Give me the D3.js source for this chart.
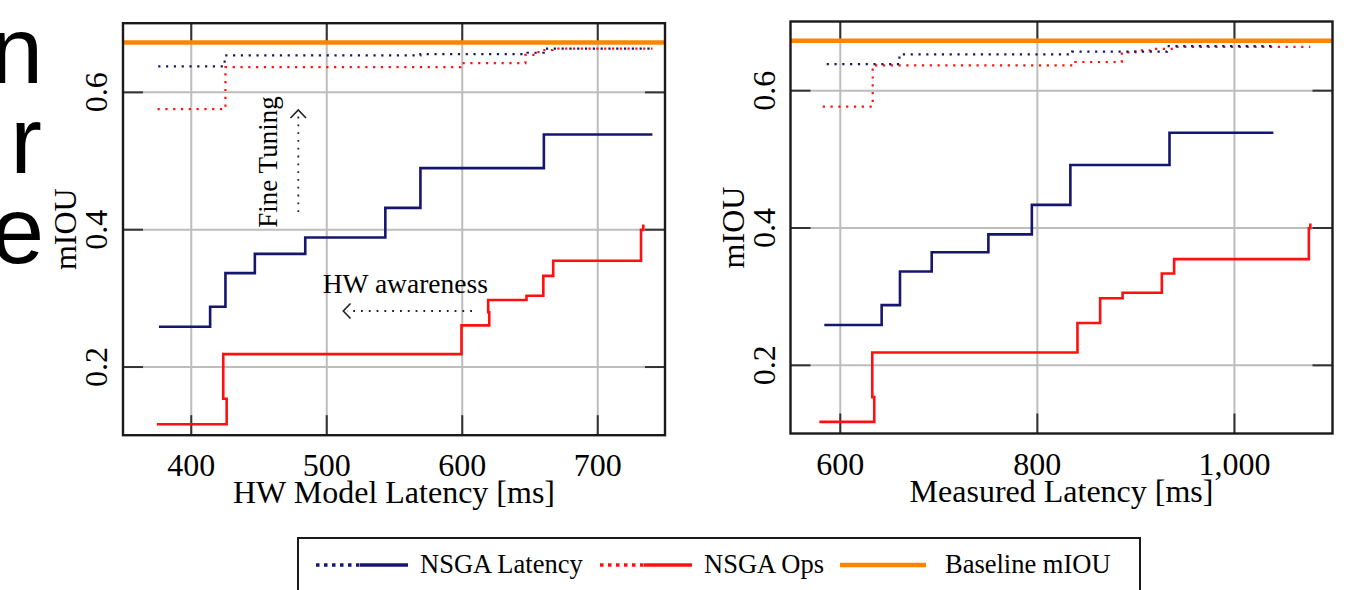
<!DOCTYPE html>
<html>
<head>
<meta charset="utf-8">
<script src="https://cdn.jsdelivr.net/npm/d3@7"></script>
<style>
body { margin: 0; background: #fff; }
</style>
</head>
<body>
<div id="chart"></div>
<script>
// tick values
var yTicks = [0.2, 0.4, 0.6];
var hwTicks = [400, 500, 600, 700];
var measTicks = [600, 800, 1000];
var baselineMIOU = 0.672;

// left panel: HW model latency [ms] -> mIOU
var hwLatencyFT = [[376, 0.637], [425, 0.653], [569.5, 0.655], [648.5, 0.657], [660.5, 0.663], [740.7, 0.663]];
var hwLatency = [[376.5, 0.258], [414.3, 0.287], [425.6, 0.336], [447.3, 0.364], [484.5, 0.388],
                 [543.6, 0.431], [569.5, 0.489], [660.6, 0.538], [740.7, 0.538]];
var hwOpsFT = [[375.5, 0.575], [425.6, 0.636], [599, 0.642], [647, 0.654], [655, 0.658], [661, 0.661], [667, 0.663], [740.7, 0.663]];
var hwOps = [[375, 0.116], [426.5, 0.153], [424, 0.218], [599.8, 0.26], [620.3, 0.279], [619.5, 0.297],
             [647.8, 0.303], [660.2, 0.332], [667.5, 0.354], [732.3, 0.399], [734, 0.407]];

// right panel: measured latency [ms] -> mIOU
var measLatencyFT = [[586.7, 0.638], [660.5, 0.652], [835.8, 0.656], [932, 0.664], [1040, 0.664]];
var measLatency = [[584.3, 0.258], [642.5, 0.287], [661.1, 0.336], [693.3, 0.364], [750.8, 0.39],
                   [794.9, 0.433], [834, 0.491], [934.6, 0.538], [1040, 0.538]];
var measOpsFT = [[582.7, 0.576], [633.4, 0.636], [839, 0.641], [886.2, 0.655], [900, 0.658], [915, 0.66], [938.6, 0.663], [1077.4, 0.663]];
var measOps = [[579.3, 0.117], [635, 0.153], [633, 0.218], [841.2, 0.261], [864.2, 0.297], [887, 0.305],
               [926.8, 0.333], [939.3, 0.354], [1076, 0.399], [1077.5, 0.406]];

var legendNames = ["NSGA Latency", "NSGA Ops", "Baseline mIOU"];
var slideText = ["n", "r", "e"];

var blue = "#16166e";
var red = "#ff1010";
var orange = "#ff8400";
var serif = "'Liberation Serif', 'DejaVu Serif', serif";

var svg = d3.select("#chart").append("svg")
    .attr("width", 1354)
    .attr("height", 590);

// cut-off slide text on the far left
svg.selectAll(".slide").data(slideText).enter().append("text")
    .attr("x", function(d, i) { return [43, 42, 44][i]; })
    .attr("y", function(d, i) { return 83 + i * 90; })
    .attr("text-anchor", "end")
    .attr("font-family", "'Liberation Sans', Arial, sans-serif")
    .attr("font-size", 95)
    .text(function(d) { return d; });

function panel(cfg) {
    var x = d3.scaleLinear().domain(cfg.xDomain).range([cfg.left, cfg.right]);
    var y = d3.scaleLinear().domain([0.1, 0.7]).range([cfg.bottom, cfg.top]);
    var h = cfg.bottom - cfg.top;
    var w = cfg.right - cfg.left;
    var g = svg.append("g");

    // grid
    g.append("g")
        .attr("transform", "translate(0," + cfg.bottom + ")")
        .call(d3.axisBottom(x).tickValues(cfg.xTicks).tickSize(-h).tickFormat(""))
        .call(function(a) { a.select(".domain").remove(); })
        .selectAll("line").attr("stroke", "#bdbdbd").attr("stroke-width", 2);
    g.append("g")
        .attr("transform", "translate(" + cfg.left + ",0)")
        .call(d3.axisLeft(y).tickValues(yTicks).tickSize(-w).tickFormat(""))
        .call(function(a) { a.select(".domain").remove(); })
        .selectAll("line").attr("stroke", "#bdbdbd").attr("stroke-width", 2);

    // inner ticks on all four sides
    var tk = 20;
    [[d3.axisBottom(x).tickValues(cfg.xTicks), "translate(0," + cfg.bottom + ")"],
     [d3.axisTop(x).tickValues(cfg.xTicks), "translate(0," + cfg.top + ")"],
     [d3.axisLeft(y).tickValues(yTicks), "translate(" + cfg.left + ",0)"],
     [d3.axisRight(y).tickValues(yTicks), "translate(" + cfg.right + ",0)"]].forEach(function(p) {
        g.append("g")
            .attr("transform", p[1])
            .call(p[0].tickSize(-tk).tickFormat(""))
            .call(function(a) { a.select(".domain").remove(); })
            .selectAll("line").attr("stroke", "#333").attr("stroke-width", 2);
    });

    // baseline
    g.append("line")
        .attr("x1", cfg.left).attr("x2", cfg.right)
        .attr("y1", y(baselineMIOU)).attr("y2", y(baselineMIOU))
        .attr("stroke", orange).attr("stroke-width", 4.5);

    var line = d3.line()
        .x(function(d) { return x(d[0]); })
        .y(function(d) { return y(d[1]); })
        .curve(d3.curveStepAfter);

    var series = [
        [cfg.opsFT, red, true],
        [cfg.latFT, blue, true],
        [cfg.ops, red, false],
        [cfg.lat, blue, false]
    ];
    series.forEach(function(s) {
        g.append("path")
            .datum(s[0])
            .attr("d", line)
            .attr("fill", "none")
            .attr("stroke", s[1])
            .attr("stroke-width", s[2] ? 2.2 : 2.6)
            .attr("stroke-dasharray", s[2] ? "2.2,5.6" : null);
    });

    // frame
    g.append("rect")
        .attr("x", cfg.left).attr("y", cfg.top)
        .attr("width", w).attr("height", h)
        .attr("fill", "none").attr("stroke", "#1a1a1a").attr("stroke-width", 2.4);

    // x tick labels
    var xl = g.append("g")
        .attr("transform", "translate(0," + cfg.bottom + ")")
        .call(d3.axisBottom(x).tickValues(cfg.xTicks).tickSize(0).tickFormat(cfg.fmt));
    xl.select(".domain").remove();
    xl.selectAll("text")
        .attr("y", 41).attr("dy", null)
        .attr("fill", "#000")
        .attr("font-family", serif).attr("font-size", 32);

    // y tick labels (rotated)
    var yl = g.append("g")
        .attr("transform", "translate(" + cfg.left + ",0)")
        .call(d3.axisLeft(y).tickValues(yTicks).tickSize(0).tickFormat(d3.format(".1f")));
    yl.select(".domain").remove();
    yl.selectAll("text")
        .attr("x", 0).attr("y", 0).attr("dy", null)
        .attr("text-anchor", "middle")
        .attr("transform", "translate(-16,0) rotate(-90)")
        .attr("fill", "#000")
        .attr("font-family", serif).attr("font-size", 32);

    // axis titles
    g.append("text")
        .attr("x", (cfg.left + cfg.right) / 2)
        .attr("y", cfg.bottom + 68)
        .attr("text-anchor", "middle")
        .attr("font-family", serif).attr("font-size", 32)
        .text(cfg.xTitle);
    g.append("text")
        .attr("transform", "translate(" + (cfg.left - 47) + "," + ((cfg.top + cfg.bottom) / 2) + ") rotate(-90)")
        .attr("text-anchor", "middle")
        .attr("font-family", serif).attr("font-size", 32)
        .text("mIOU");
}

panel({
    left: 123, right: 665, top: 23.2, bottom: 435.2,
    xDomain: [350, 750], xTicks: hwTicks, fmt: d3.format("d"),
    xTitle: "HW Model Latency [ms]",
    latFT: hwLatencyFT, lat: hwLatency, opsFT: hwOpsFT, ops: hwOps
});

panel({
    left: 790.5, right: 1332.5, top: 21.5, bottom: 433.5,
    xDomain: [550, 1100], xTicks: measTicks, fmt: d3.format(","),
    xTitle: "Measured Latency [ms]",
    latFT: measLatencyFT, lat: measLatency, opsFT: measOpsFT, ops: measOps
});

// annotations on the left panel
svg.append("text")
    .attr("transform", "translate(277,162) rotate(-90)")
    .attr("text-anchor", "middle")
    .attr("font-family", serif).attr("font-size", 27)
    .text("Fine Tuning");
svg.append("line")
    .attr("x1", 298.3).attr("x2", 298.3).attr("y1", 212).attr("y2", 114)
    .attr("stroke", "#222").attr("stroke-width", 1.8).attr("stroke-dasharray", "1.8,6");
svg.append("path")
    .attr("d", "M290.5,118 L298.3,110 L306,118")
    .attr("fill", "none").attr("stroke", "#222").attr("stroke-width", 1.6);

svg.append("text")
    .attr("x", 322.7).attr("y", 293)
    .attr("font-family", serif).attr("font-size", 27.5)
    .text("HW awareness");
svg.append("line")
    .attr("x1", 472).attr("x2", 347).attr("y1", 311).attr("y2", 311)
    .attr("stroke", "#222").attr("stroke-width", 1.8).attr("stroke-dasharray", "1.8,6");
svg.append("path")
    .attr("d", "M350.5,303.5 L343.3,311 L350.5,318.5")
    .attr("fill", "none").attr("stroke", "#222").attr("stroke-width", 1.6);

// legend
var lg = svg.append("g");
lg.append("rect")
    .attr("x", 298).attr("y", 538).attr("width", 842).attr("height", 80)
    .attr("fill", "#fff").attr("stroke", "#1a1a1a").attr("stroke-width", 2);
var legendItems = [
    {name: legendNames[0], color: blue, dotted: true, x: 316},
    {name: legendNames[1], color: red, dotted: true, x: 600},
    {name: legendNames[2], color: orange, dotted: false, x: 840}
];
var ly = 565;
legendItems.forEach(function(it) {
    if (it.dotted) {
        lg.append("line")
            .attr("x1", it.x).attr("x2", it.x + 44).attr("y1", ly).attr("y2", ly)
            .attr("stroke", it.color).attr("stroke-width", 3.5).attr("stroke-dasharray", "3.5,4.5");
        lg.append("line")
            .attr("x1", it.x + 44).attr("x2", it.x + 92).attr("y1", ly).attr("y2", ly)
            .attr("stroke", it.color).attr("stroke-width", 3.5);
        lg.append("text")
            .attr("x", it.x + 104).attr("y", ly + 8)
            .attr("font-family", serif).attr("font-size", 26.5)
            .text(it.name);
    } else {
        lg.append("line")
            .attr("x1", it.x).attr("x2", it.x + 86).attr("y1", ly).attr("y2", ly)
            .attr("stroke", it.color).attr("stroke-width", 4.5);
        lg.append("text")
            .attr("x", it.x + 105).attr("y", ly + 8)
            .attr("font-family", serif).attr("font-size", 26.5)
            .text(it.name);
    }
});
</script>
</body>
</html>
